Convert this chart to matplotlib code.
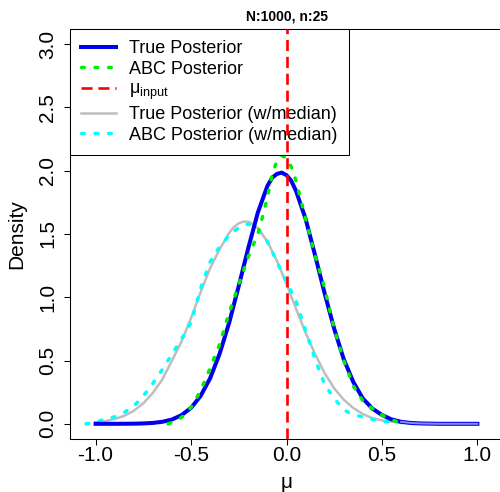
import matplotlib
matplotlib.use("Agg")
import matplotlib.pyplot as plt

plt.rcParams['font.family'] = ['Liberation Sans', 'DejaVu Sans']
plt.rcParams['mathtext.fontset'] = 'custom'
plt.rcParams['mathtext.rm'] = 'Liberation Sans'

# values
true_x = [-1.0, -0.9, -0.8, -0.75, -0.7, -0.65, -0.6, -0.55, -0.5, -0.45, -0.4, -0.35,
          -0.3, -0.25, -0.2, -0.15, -0.1, -0.075, -0.05, -0.025, 0.0, 0.025, 0.05, 0.1,
          0.15, 0.2, 0.25, 0.3, 0.35, 0.4, 0.45, 0.5, 0.55, 0.6, 0.65, 0.7, 0.8, 0.9, 1.0]
true_y = [0.0, 0.0, 0.001, 0.003, 0.007, 0.016, 0.034, 0.068, 0.126, 0.22, 0.36, 0.555,
          0.80, 1.09, 1.39, 1.67, 1.88, 1.945, 1.975, 1.985, 1.965, 1.92, 1.84, 1.62,
          1.33, 1.03, 0.75, 0.51, 0.33, 0.20, 0.12, 0.07, 0.035, 0.016, 0.007, 0.003,
          0.0, 0.0, 0.0]

abc_x = [-0.62, -0.6, -0.55, -0.5, -0.45, -0.4, -0.35, -0.3, -0.25, -0.2, -0.15, -0.125,
         -0.1, -0.075, -0.05, -0.025, 0.0, 0.025, 0.05, 0.1, 0.15, 0.2, 0.25, 0.3,
         0.35, 0.4, 0.45, 0.5, 0.55, 0.6, 0.62]
abc_y = [0.0, 0.01, 0.05, 0.13, 0.26, 0.44, 0.63, 0.88, 1.10, 1.32, 1.50, 1.64,
         1.79, 1.97, 2.08, 2.12, 2.10, 2.03, 1.92, 1.62, 1.33, 1.07, 0.75, 0.50,
         0.30, 0.18, 0.12, 0.07, 0.03, 0.01, 0.0]

med_x = [-1.0, -0.95, -0.9, -0.85, -0.8, -0.75, -0.7, -0.65, -0.6, -0.55, -0.5, -0.45,
         -0.4, -0.35, -0.3, -0.275, -0.25, -0.225, -0.2, -0.175, -0.15, -0.1, -0.05, 0.0,
         0.05, 0.1, 0.15, 0.2, 0.25, 0.3, 0.35, 0.4, 0.45, 0.5, 0.6, 0.7, 0.8, 1.0]
med_y = [0.012, 0.021, 0.038, 0.063, 0.103, 0.162, 0.244, 0.352, 0.50, 0.65, 0.835, 1.04,
         1.23, 1.38, 1.51, 1.555, 1.585, 1.598, 1.597, 1.578, 1.547, 1.44, 1.287, 1.105,
         0.91, 0.72, 0.55, 0.40, 0.28, 0.19, 0.125, 0.077, 0.045, 0.027, 0.008, 0.002,
         0.0, 0.0]

abcmed_x = [-1.05, -1.0, -0.95, -0.9, -0.85, -0.8, -0.75, -0.7, -0.65, -0.6, -0.55, -0.5,
            -0.45, -0.4, -0.35, -0.3, -0.25, -0.2, -0.15, -0.1, -0.05, 0.0, 0.05, 0.1,
            0.15, 0.2, 0.25, 0.3, 0.35, 0.4, 0.45, 0.5, 0.6, 0.7]
abcmed_y = [0.0, 0.01, 0.04, 0.055, 0.09, 0.14, 0.22, 0.32, 0.43, 0.55, 0.67, 0.80,
            1.07, 1.28, 1.40, 1.49, 1.55, 1.58, 1.54, 1.44, 1.28, 1.12, 0.97, 0.735,
            0.51, 0.31, 0.20, 0.11, 0.07, 0.055, 0.035, 0.02, 0.01, 0.0]

mu_input = 0.0
labels = ['True Posterior', 'ABC Posterior', r'$\mathregular{μ_{input}}$',
          'True Posterior (w/median)', 'ABC Posterior (w/median)']
xticks = [-1.0, -0.5, 0.0, 0.5, 1.0]
yticks = [0.0, 0.5, 1.0, 1.5, 2.0, 2.5, 3.0]

fig = plt.figure(figsize=(5, 4.92), dpi=100)
ax = fig.add_axes([70 / 500, 1 - 439 / 492, 433 / 500, 410 / 492])

dot = (0, (0.8, 3.1))
l4, = ax.plot(med_x, med_y, color='#bebebe', lw=1.8, zorder=2)
l5, = ax.plot(abcmed_x, abcmed_y, color='cyan', lw=2.5, linestyle=dot,
              dash_capstyle='round', zorder=2.1)
l1, = ax.plot(true_x, true_y, color='#0000ee', lw=2.9, zorder=3)
# lighter inside of the flat right tail
tail = [i for i, v in enumerate(true_x) if v >= 0.6]
ax.plot([true_x[i] for i in tail], [true_y[i] for i in tail],
        color='#8a8af0', lw=1.4, zorder=3.05)
l2, = ax.plot(abc_x, abc_y, color='#00ee00', lw=2.5, linestyle=dot,
              dash_capstyle='round', zorder=3.1)
l3 = ax.axvline(mu_input, color='red', lw=1.9, linestyle=(0, (4.2, 2.2)), zorder=6)

ax.set_xlim(-1.134, 1.134)
ax.set_ylim(-0.12, 3.12)
ax.set_xticks(xticks)
ax.set_yticks(yticks)
ax.set_xticklabels(['%.1f' % v for v in xticks])
ax.set_yticklabels(['%.1f' % v for v in yticks], rotation=90, va='center')
ax.tick_params(axis='x', direction='out', length=4.5, width=0.75, pad=0.5, labelsize=15)
ax.tick_params(axis='y', direction='out', length=4.0, width=0.75, pad=5.0, labelsize=15)
for s in ax.spines.values():
    s.set_linewidth(0.75)

ax.set_xlabel('μ', fontsize=15, labelpad=5.5)
ax.set_ylabel('Density', fontsize=15, labelpad=8.5)
ax.set_title('N:1000, n:25', fontsize=10, fontweight='bold', pad=6.0)

leg = ax.legend([l1, l2, l3, l4, l5], labels, loc='upper left', bbox_to_anchor=(0, 1),
                borderaxespad=0, fontsize=13, fancybox=False, edgecolor='black',
                framealpha=1, handlelength=1.9, handletextpad=0.75,
                labelspacing=0.2, borderpad=0.62)
leg.get_frame().set_linewidth(0.75)

fig.savefig('out.png', dpi=100)
